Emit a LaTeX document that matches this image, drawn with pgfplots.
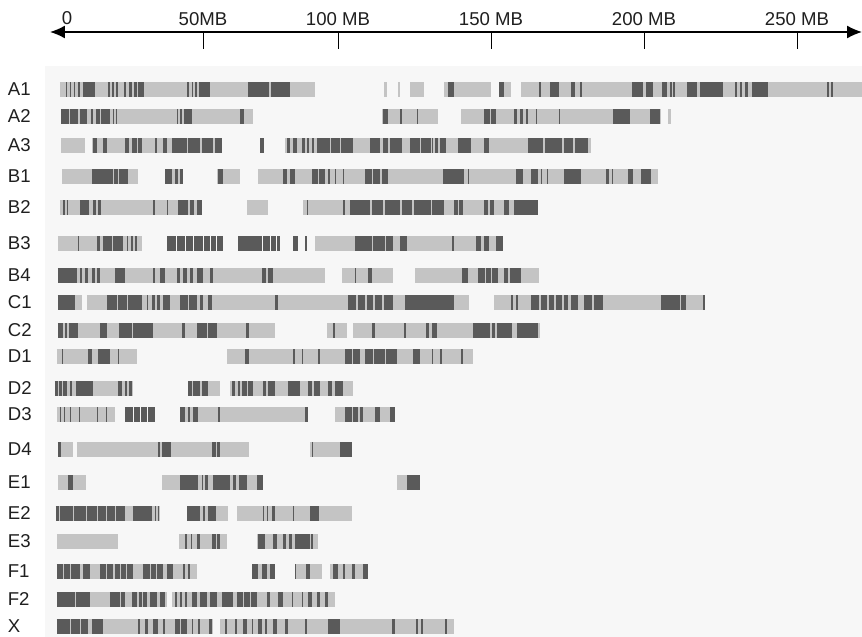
\documentclass[border=0pt]{standalone}
\usepackage{pgfplots}
\pgfplotsset{compat=1.18}
\usepackage{pgfplotstable}
\usepackage{fontspec}
\setmainfont{Liberation Sans}
\usetikzlibrary{arrows.meta}
\definecolor{lightc}{HTML}{C4C4C4}
\definecolor{darkc}{HTML}{5A5A5A}
\definecolor{bgc}{HTML}{F7F7F7}

% light segments: start, end (pixel-scale position), row
\pgfplotstableread{
x1 x2 y
60 315 89
384 387 89
398 400 89
410 424 89
444 491 89
499 511 89
521 862 89
61 253 116.5
382 438 116.5
461 661 116.5
668 671 116.5
61 85 145.5
92 222 145.5
285 591 145.5
62 138 176.5
165 183 176.5
217 240 176.5
258 658 176.5
60 202 207
247 268 207
303 538 207
58 142 243
315 503 243
58 325 275.5
342 393 275.5
415 539 275.5
58 82 302.5
87 469 302.5
494 704 302.5
58 275 330.5
327 347 330.5
353 540 330.5
57 137 356.5
227 473 356.5
55 133 388
188 220 388
230 353 388
57 115 414.5
180 308 414.5
335 395 414.5
58 73 449.5
77 249 449.5
310 352 449.5
58 86 482
162 263 482
397 420 482
56 160 513.5
187 228 513.5
237 352 513.5
57 118 541.5
179 227 541.5
257 318 541.5
57 197 571.5
252 275 571.5
295 322 571.5
330 368 571.5
57 167 599.5
172 335 599.5
57 213 626.5
220 454 626.5
}\lightsegs

% dark bands: start, end, row
\pgfplotstableread{
x1 x2 y
66 67.5 89
70 71.5 89
74 75.5 89
78.5 80 89
83 95 89
108 110 89
112 114 89
116.5 118 89
124 126 89
129 132 89
134 137 89
138 144 89
187 189 89
191.5 193 89
195 197 89
199 210 89
248 269 89
271 290 89
448 454 89
499 504 89
539 541 89
550 559 89
571 575 89
580 582 89
632 643 89
646 653 89
662 667 89
670 671.5 89
673 675 89
687 697 89
700 723 89
735 737 89
740 742 89
745 748 89
752 768 89
827 829 89
831 833 89
61 69 116.5
70 78 116.5
80 87 116.5
91 93 116.5
96 100 116.5
101 110 116.5
113 114 116.5
116 117 116.5
177 178 116.5
180 181.5 116.5
184 192 116.5
240 244 116.5
383 388 116.5
400 402 116.5
417 418 116.5
484 490 116.5
491 496 116.5
514 517 116.5
520 523 116.5
526 528 116.5
536 537 116.5
559 560 116.5
613 630 116.5
650 660 116.5
93 97 145.5
103 107 145.5
125 129 145.5
132 137 145.5
138 142 145.5
155 157 145.5
163 167 145.5
172 187 145.5
188 200 145.5
202 213 145.5
215 222 145.5
260 264 145.5
287 290 145.5
293 297 145.5
302 305 145.5
307 309 145.5
312 314 145.5
317 330 145.5
331 340 145.5
341 353 145.5
370 380 145.5
383 388 145.5
390 402 145.5
410 420 145.5
421 431 145.5
432 433 145.5
435 438 145.5
440 446 145.5
458 471 145.5
484 489 145.5
528 543 145.5
545 562 145.5
564 573 145.5
575 588 145.5
92 113 176.5
114 118 176.5
119 128 176.5
165 172 176.5
175 178 176.5
180 183 176.5
218 223 176.5
283 287 176.5
290 295 176.5
312 318 176.5
319 325 176.5
328 330 176.5
335 336 176.5
343 344 176.5
365 372 176.5
373 380 176.5
382 388 176.5
443 464 176.5
468 469 176.5
516 523 176.5
531 538 176.5
541 542 176.5
547 548 176.5
564 581 176.5
606 609 176.5
612 613 176.5
628 633 176.5
641 651 176.5
63 65 207
67 68 207
80 89 207
93 96 207
98 101 207
153 155 207
167 168 207
178 188 207
190 194 207
197 202 207
307 308 207
343 345 207
350 370 207
372 383 207
385 400 207
402 412 207
414 431 207
432 444 207
454 458 207
459 463 207
484 488 207
490 494 207
504 509 207
514 538 207
78 79 243
97 100 243
103 112 243
113 123 243
127 128 243
131 133 243
135 137 243
167 176 243
177 185 243
186 193 243
194 203 243
204 210 243
211 216 243
217 223 243
238 262 243
263 270 243
271 276 243
277 280 243
293 298 243
305 307 243
355 372 243
373 385 243
386 393 243
400 407 243
452 454 243
476 481 243
484 489 243
496 503 243
58 77 275.5
80 82 275.5
85 88 275.5
92 95 275.5
97 100 275.5
115 125 275.5
153 155 275.5
160 165 275.5
177 180 275.5
183 187 275.5
190 193 275.5
197 203 275.5
210 213 275.5
262 266 275.5
268 273 275.5
355 356 275.5
368 372 275.5
462 468 275.5
478 485 275.5
486 491 275.5
492 498 275.5
504 508 275.5
510 521 275.5
58 75 302.5
107 117 302.5
118 127 302.5
128 142 302.5
147 148 302.5
152 155 302.5
157 160 302.5
163 170 302.5
180 188 302.5
189 197 302.5
200 203 302.5
208 212 302.5
275 278 302.5
348 356 302.5
358 365 302.5
367 373 302.5
375 382 302.5
384 393 302.5
405 454 302.5
511 513 302.5
516 518 302.5
531 539 302.5
541 547 302.5
549 554 302.5
556 562 302.5
564 568 302.5
571 578 302.5
584 592 302.5
594 603 302.5
661 680 302.5
681 686 302.5
703 704.5 302.5
58 63 330.5
65 67 330.5
69 78 330.5
100 107 330.5
119 132 330.5
133 153 330.5
182 185 330.5
197 207 330.5
208 217 330.5
246 249 330.5
333 335 330.5
372 375 330.5
404 406 330.5
426 429 330.5
432 437 330.5
473 490 330.5
492 495 330.5
497 512 330.5
517 538 330.5
62 63 356.5
88 92 356.5
98 110 356.5
118 119 356.5
245 249 356.5
293 295 356.5
302 303 356.5
318 320 356.5
345 352 356.5
353 360 356.5
365 373 356.5
374 385 356.5
386 397 356.5
413 420 356.5
432 433 356.5
440 442 356.5
461 463 356.5
55 58 388
59 62 388
63 67 388
70 72 388
76 93 388
118 122 388
125 127 388
129 132 388
188 192 388
193 200 388
202 208 388
232 235 388
238 240 388
242 247 388
248 253 388
263 266 388
268 275 388
288 300 388
308 312 388
314 320 388
328 332 388
335 343 388
60 61 414.5
64 65 414.5
70 71 414.5
79 80 414.5
97 98 414.5
106 107 414.5
125 133 414.5
134 140 414.5
141 147 414.5
148 155 414.5
180 185 414.5
188 190 414.5
193 198 414.5
218 220 414.5
305 308 414.5
345 352 414.5
353 358 414.5
360 363 414.5
375 380 414.5
390 395 414.5
58 61 449.5
158 160 449.5
162 171 449.5
212 216 449.5
217 220 449.5
312 313 449.5
340 352 449.5
68 73 482
180 198 482
202 203 482
205 208 482
213 230 482
233 236 482
239 247 482
257 263 482
407 420 482
56 59 513.5
60 73 513.5
74 86 513.5
87 97 513.5
98 106 513.5
107 115 513.5
116 125 513.5
133 152 513.5
155 156 513.5
158 159 513.5
187 200 513.5
203 205 513.5
208 216 513.5
263 264 513.5
267 268 513.5
272 275 513.5
293 294 513.5
310 319 513.5
185 187 541.5
191 192 541.5
197 200 541.5
212 216 541.5
217 220 541.5
258 265 541.5
273 277 541.5
283 286 541.5
289 292 541.5
295 310 541.5
311 313 541.5
57 63 571.5
64 70 571.5
71 80 571.5
83 90 571.5
100 106 571.5
107 113 571.5
115 120 571.5
121 126 571.5
127 133 571.5
143 150 571.5
151 156 571.5
157 163 571.5
167 173 571.5
183 185 571.5
188 190 571.5
252 258 571.5
262 267 571.5
270 275 571.5
295 296 571.5
306 310 571.5
333 338 571.5
343 345 571.5
352 355 571.5
363 368 571.5
57 75 599.5
76 90 599.5
110 120 599.5
121 125 599.5
132 137 599.5
139 142 599.5
143 147 599.5
150 157 599.5
160 165 599.5
175 177 599.5
180 182 599.5
185 187 599.5
192 197 599.5
200 207 599.5
210 217 599.5
222 233 599.5
237 243 599.5
244 250 599.5
251 257 599.5
267 270 599.5
278 283 599.5
292 293 599.5
302 303 599.5
308 312 599.5
317 320 599.5
325 328 599.5
57 70 626.5
71 80 626.5
81 88 626.5
92 103 626.5
138 140 626.5
145 148 626.5
153 158 626.5
163 165 626.5
175 180 626.5
181 187 626.5
192 193 626.5
198 200 626.5
209 212 626.5
225 227 626.5
235 237 626.5
243 247 626.5
252 253 626.5
258 262 626.5
265 267 626.5
273 277 626.5
285 288 626.5
305 307 626.5
328 340 626.5
392 395 626.5
416 418 626.5
421 423 626.5
445 447 626.5
}\darksegs

\begin{document}
\begin{tikzpicture}
\begin{axis}[
  x=0.5pt, y=0.5pt,
  xmin=50, xmax=862, ymin=32, ymax=637,
  y dir=reverse,
  axis x line*=top, axis y line*=left,
  y axis line style={draw=none},
  x axis line style={line width=0.65pt, {Latex[length=7.5pt,width=6.5pt]}-{Latex[length=7.5pt,width=6.5pt]}},
  xtick={203,338,491,644,797},
  xticklabels={50MB,100 MB,150 MB,200 MB,250 MB},
  extra x ticks={67},
  extra x tick labels={0},
  extra x tick style={major tick length=0pt, xticklabel style={yshift=0.6pt}},
  tick align=inside,
  major tick length=8.5pt,
  x tick style={line width=0.5pt, black},
  xticklabel style={yshift=-0.6pt},
  ytick={89,116.5,145.5,176.5,207,243,275.5,302.5,330.5,356.5,388,414.5,449.5,482,513.5,541.5,571.5,599.5,626.5},
  yticklabels={A1,A2,A3,B1,B2,B3,B4,C1,C2,D1,D2,D3,D4,E1,E2,E3,F1,F2,X},
  y tick style={draw=none},
  yticklabel style={anchor=west, xshift=-24.6pt},
  ticklabel style={font=\fontsize{9.3}{11}\selectfont, text=black!88},
  clip=false, no markers,
]
\fill[bgc] (axis cs:45,66) rectangle (axis cs:862,637);
\addplot[draw=lightc, line width=7.5pt, line cap=butt,
  quiver={u=\thisrow{x2}-\thisrow{x1}, v=0}] table[x=x1, y=y] {\lightsegs};
\addplot[draw=darkc, line width=7.5pt, line cap=butt,
  quiver={u=\thisrow{x2}-\thisrow{x1}, v=0}] table[x=x1, y=y] {\darksegs};
\coordinate (bbA) at (axis cs:0,637);
\coordinate (bbB) at (axis cs:862,0);
\end{axis}
\pgfresetboundingbox
\path[use as bounding box] (bbA) rectangle (bbB);
\end{tikzpicture}
\end{document}
